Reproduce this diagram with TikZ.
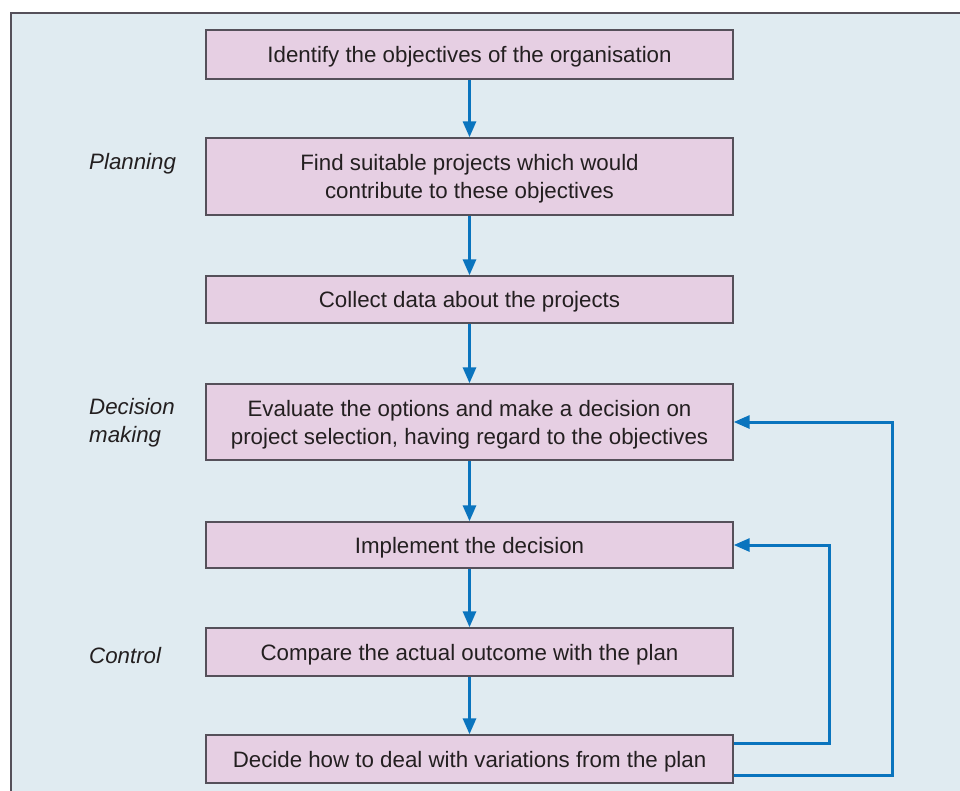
\documentclass[tikz,border=0pt]{standalone}
\usepackage{fontspec}
\setmainfont{Liberation Sans}
\usetikzlibrary{arrows.meta}
\definecolor{panel}{HTML}{E0EBF1}
\definecolor{boxfill}{HTML}{E6CFE3}
\definecolor{boxline}{HTML}{55505A}
\definecolor{flow}{HTML}{0A74BE}
\definecolor{txt}{HTML}{231F20}
\begin{document}
\begin{tikzpicture}[x=1pt,y=-1pt,
  stepbox/.style={draw=boxline,line width=1.4pt,fill=boxfill,minimum width=527pt,align=center,font=\fontsize{22.3}{28}\selectfont,text=txt,inner sep=0pt,text depth=0pt},
  flowline/.style={draw=flow,line width=3pt},
  flowarrow/.style={flowline,-{Triangle[length=16pt,width=13pt]}},
  sidelabel/.style={anchor=west,align=left,font=\fontsize{22.3}{28}\selectfont\itshape,text=txt,inner sep=0pt}]
\useasboundingbox (0,0) rectangle (960,790);
\fill[white] (0,0) rectangle (960,790);
\fill[panel] (11,13) rectangle (962,792);
\draw[boxline,line width=1.5pt] (11,792) -- (11,13) -- (962,13);
\node[stepbox,minimum height=49pt] (b1) at (469.5,54.5) {Identify the objectives of the organisation};
\node[stepbox,minimum height=77pt] (b2) at (469.5,176.5) {Find suitable projects which would\\contribute to these objectives};
\node[stepbox,minimum height=47pt] (b3) at (469.5,299.5) {Collect data about the projects};
\node[stepbox,minimum height=76pt] (b4) at (469.5,422) {Evaluate the options and make a decision on\\project selection, having regard to the objectives};
\node[stepbox,minimum height=46pt] (b5) at (469.5,545) {Implement the decision};
\node[stepbox,minimum height=48pt] (b6) at (469.5,652) {Compare the actual outcome with the plan};
\node[stepbox,minimum height=48pt] (b7) at (469.5,759) {Decide how to deal with variations from the plan};
\node[sidelabel] (l1) at (89,164) {Planning};
\node[sidelabel] (l2) at (89,423) {Decision\\making};
\node[sidelabel] (l3) at (89,656) {Control};
\foreach \a/\b in {b1/b2,b2/b3,b3/b4,b4/b5,b5/b6,b6/b7}
  \draw[flowarrow] (\a.south) -- (\b.north);
\coordinate (c1) at (829,743);
\coordinate (c2) at (892,775);
\draw[flowarrow] (b7.east |- c1) -- (c1) |- (b5.east);
\draw[flowarrow] (b7.east |- c2) -- (c2) |- (b4.east);
\end{tikzpicture}
\end{document}
